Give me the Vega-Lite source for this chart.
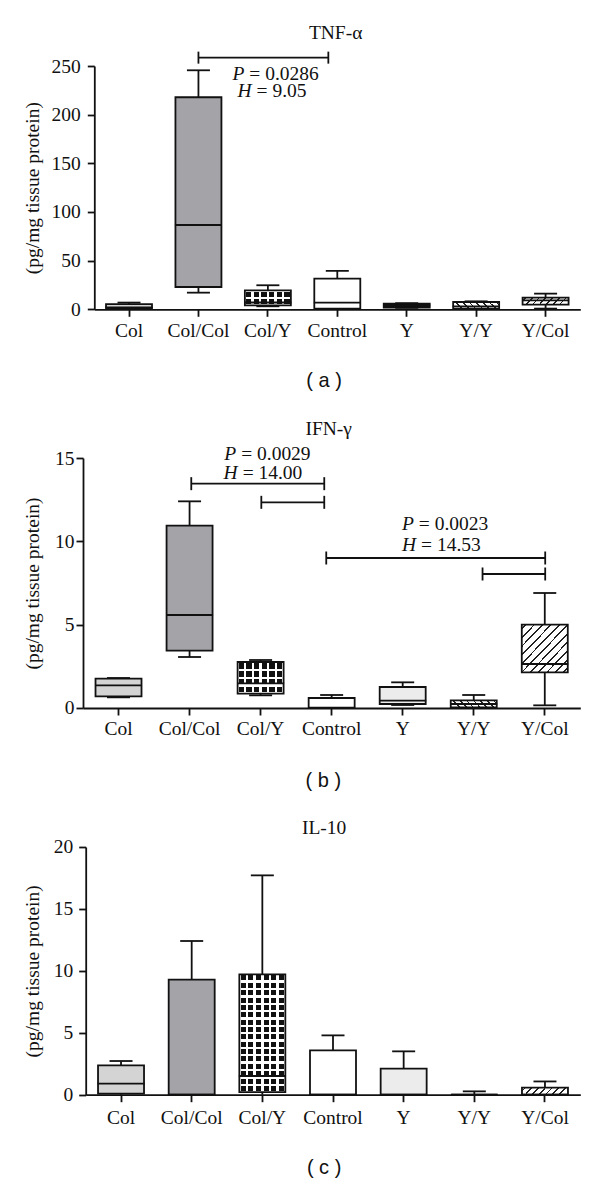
{
  "$schema": "https://vega.github.io/schema/vega-lite/v6.json",
  "padding": {"left": 22, "top": 22, "right": 5, "bottom": 0},
  "spacing": 27,
  "columns": 1,
  "align": "none",
  "resolve": {"scale": {"fill": "independent"}},
  "config": {
    "view": {"stroke": null},
    "font": "Liberation Serif",
    "axis": {"labelFont": "Liberation Serif", "labelFontSize": 19.5, "labelColor": "#111", "titleFont": "Liberation Serif", "titleFontSize": 19.5, "titleFontWeight": "normal", "titleColor": "#111", "domainColor": "#111", "domainWidth": 1.8, "tickColor": "#111", "tickWidth": 1.8, "tickSize": 7, "grid": false},
    "title": {"font": "Liberation Serif", "fontSize": 19.5, "fontWeight": "normal", "color": "#111", "frame": "group", "baseline": "alphabetic", "anchor": "middle"}
  },
  "datasets": {
    "boxes": [
      {"panel": "a", "group": "Col", "min": 0.3, "q1": 0.8, "median": 2, "q3": 5.4, "max": 6.9},
      {"panel": "a", "group": "Col/Col", "min": 17.1, "q1": 22.9, "median": 86.6, "q3": 217.9, "max": 245.6},
      {"panel": "a", "group": "Col/Y", "min": 3.1, "q1": 4.1, "median": 7, "q3": 19.5, "max": 24.7},
      {"panel": "a", "group": "Control", "min": 0.3, "q1": 0.7, "median": 6.9, "q3": 31.5, "max": 39.4},
      {"panel": "a", "group": "Y", "min": 1.5, "q1": 1.8, "median": 4, "q3": 5.9, "max": 6.3},
      {"panel": "a", "group": "Y/Y", "min": 0.5, "q1": 0.7, "median": 3, "q3": 7.5, "max": 8.2},
      {"panel": "a", "group": "Y/Col", "min": 0.7, "q1": 4.8, "median": 9.2, "q3": 12.0, "max": 16.1},
      {"panel": "b", "group": "Col", "min": 0.64, "q1": 0.7, "median": 1.36, "q3": 1.76, "max": 1.8},
      {"panel": "b", "group": "Col/Col", "min": 3.06, "q1": 3.44, "median": 5.58, "q3": 10.94, "max": 12.4},
      {"panel": "b", "group": "Col/Y", "min": 0.76, "q1": 0.86, "median": 1.48, "q3": 2.76, "max": 2.88},
      {"panel": "b", "group": "Control", "min": 0, "q1": 0, "median": 0.02, "q3": 0.6, "max": 0.78},
      {"panel": "b", "group": "Y", "min": 0.18, "q1": 0.24, "median": 0.44, "q3": 1.26, "max": 1.54},
      {"panel": "b", "group": "Y/Y", "min": 0, "q1": 0.04, "median": 0.24, "q3": 0.46, "max": 0.78},
      {"panel": "b", "group": "Y/Col", "min": 0.16, "q1": 2.14, "median": 2.64, "q3": 5.0, "max": 6.9},
      {"panel": "c", "group": "Col", "min": 0, "q1": 0.08, "median": 0.89, "q3": 2.37, "max": 2.72},
      {"panel": "c", "group": "Col/Col", "min": 0, "q1": 0, "median": 0, "q3": 9.29, "max": 12.41},
      {"panel": "c", "group": "Col/Y", "min": 0, "q1": 0.21, "median": 1.51, "q3": 9.72, "max": 17.71},
      {"panel": "c", "group": "Control", "min": 0, "q1": 0, "median": 0, "q3": 3.58, "max": 4.79},
      {"panel": "c", "group": "Y", "min": 0, "q1": 0, "median": 0, "q3": 2.1, "max": 3.5},
      {"panel": "c", "group": "Y/Y", "min": 0, "q1": 0, "median": 0, "q3": 0, "max": 0.27},
      {"panel": "c", "group": "Y/Col", "min": 0, "q1": 0, "median": 0, "q3": 0.57, "max": 1.07}
    ],
    "brackets": [
      {"panel": "a", "from": 1.5, "to": 3.371, "level": 258.6},
      {"panel": "b", "from": 1.524, "to": 3.396, "level": 13.46},
      {"panel": "b", "from": 2.51, "to": 3.396, "level": 12.34},
      {"panel": "b", "from": 3.424, "to": 6.506, "level": 9.0},
      {"panel": "b", "from": 5.624, "to": 6.506, "level": 8.04}
    ],
    "notes": [
      {"panel": "a", "x": 2.161, "y": 236.0, "letter": "P", "rest": "= 0.0286"},
      {"panel": "a", "x": 2.265, "y": 218.1, "letter": "H", "rest": "= 9.05"},
      {"panel": "b", "x": 2.156, "y": 14.9, "letter": "P", "rest": "= 0.0029"},
      {"panel": "b", "x": 2.177, "y": 13.76, "letter": "H", "rest": "= 14.00"},
      {"panel": "b", "x": 4.657, "y": 10.7, "letter": "P", "rest": "= 0.0023"},
      {"panel": "b", "x": 4.688, "y": 9.44, "letter": "H", "rest": "= 14.53"}
    ]
  },
  "concat": [
    {
      "width": 497.3, "height": 243.3,
      "title": {"text": "TNF-α", "offset": 8.5, "dx": 4},
      "resolve": {"scale": {"x": "independent"}},
      "layer": [
        {
          "data": {"name": "boxes"},
          "transform": [{"filter": "datum.panel === 'a'"}],
          "encoding": {"x": {"field": "group", "type": "nominal", "scale": {"domain": ["Col", "Col/Col", "Col/Y", "Control", "Y", "Y/Y", "Y/Col"], "paddingInner": 0, "paddingOuter": 0, "rangeMin": 11.3}, "axis": {"title": "( a )", "labelAngle": 0, "labelPadding": 5, "titleFont": "Liberation Sans", "titleFontSize": 20, "titleX": 240.6, "titleY": 71, "titleBaseline": "middle", "titleAlign": "center"}}},
          "layer": [
            {"mark": {"type": "rule", "color": "#111", "strokeWidth": 1.8}, "encoding": {"y": {"field": "min", "type": "quantitative", "scale": {"domain": [0, 250], "nice": false}, "title": "(pg/mg tissue protein)", "axis": {"values": [0, 50, 100, 150, 200, 250], "offset": -11.3, "labelPadding": 7, "titleX": -62, "titleY": 121.65, "titleBaseline": "middle", "titleAlign": "center", "titleAngle": 270}}, "y2": {"field": "max"}}},
            {"mark": {"type": "bar", "width": 46}, "encoding": {"y": {"field": "q1", "type": "quantitative", "scale": {"domain": [0, 250], "nice": false}, "title": "(pg/mg tissue protein)"}, "y2": {"field": "q3"}, "fill": {"field": "group", "type": "nominal", "scale": {"domain": ["Col", "Col/Col", "Col/Y", "Control", "Y", "Y/Y", "Y/Col"], "range": ["#d4d4d4", "#a4a4a8", "#111111", "#ffffff", "#111111", "#ffffff", "#ffffff"]}, "legend": null}}},
            {"transform": [{"filter": "datum.group === 'Col/Y'"}], "mark": {"type": "bar", "width": 46, "fill": {"gradient": "linear", "x1": 0, "y1": 0, "x2": 1, "y2": 0, "stops": [{"offset": 0, "color": "#ffffff"}, {"offset": 0.027, "color": "#ffffff"}, {"offset": 0.027, "color": "rgba(255,255,255,0)"}, {"offset": 0.14, "color": "rgba(255,255,255,0)"}, {"offset": 0.14, "color": "#ffffff"}, {"offset": 0.193, "color": "#ffffff"}, {"offset": 0.193, "color": "rgba(255,255,255,0)"}, {"offset": 0.307, "color": "rgba(255,255,255,0)"}, {"offset": 0.307, "color": "#ffffff"}, {"offset": 0.36, "color": "#ffffff"}, {"offset": 0.36, "color": "rgba(255,255,255,0)"}, {"offset": 0.473, "color": "rgba(255,255,255,0)"}, {"offset": 0.473, "color": "#ffffff"}, {"offset": 0.527, "color": "#ffffff"}, {"offset": 0.527, "color": "rgba(255,255,255,0)"}, {"offset": 0.64, "color": "rgba(255,255,255,0)"}, {"offset": 0.64, "color": "#ffffff"}, {"offset": 0.693, "color": "#ffffff"}, {"offset": 0.693, "color": "rgba(255,255,255,0)"}, {"offset": 0.807, "color": "rgba(255,255,255,0)"}, {"offset": 0.807, "color": "#ffffff"}, {"offset": 0.86, "color": "#ffffff"}, {"offset": 0.86, "color": "rgba(255,255,255,0)"}, {"offset": 0.973, "color": "rgba(255,255,255,0)"}, {"offset": 0.973, "color": "#ffffff"}, {"offset": 1, "color": "#ffffff"}]}}, "encoding": {"y": {"field": "q1", "type": "quantitative", "scale": {"domain": [0, 250], "nice": false}, "title": "(pg/mg tissue protein)"}, "y2": {"field": "q3"}}},
            {"transform": [{"filter": "datum.group === 'Col/Y'"}], "mark": {"type": "bar", "width": 46, "fill": {"gradient": "linear", "x1": 0, "y1": 0, "x2": 0, "y2": 1, "stops": [{"offset": 0, "color": "#ffffff"}, {"offset": 0.08, "color": "#ffffff"}, {"offset": 0.08, "color": "rgba(255,255,255,0)"}, {"offset": 0.42, "color": "rgba(255,255,255,0)"}, {"offset": 0.42, "color": "#ffffff"}, {"offset": 0.58, "color": "#ffffff"}, {"offset": 0.58, "color": "rgba(255,255,255,0)"}, {"offset": 0.92, "color": "rgba(255,255,255,0)"}, {"offset": 0.92, "color": "#ffffff"}, {"offset": 1, "color": "#ffffff"}]}}, "encoding": {"y": {"field": "q1", "type": "quantitative", "scale": {"domain": [0, 250], "nice": false}, "title": "(pg/mg tissue protein)"}, "y2": {"field": "q3"}}},
            {"transform": [{"filter": "datum.group === 'Y/Col'"}], "mark": {"type": "bar", "width": 46, "fill": {"gradient": "linear", "x1": 0, "y1": 0, "x2": 1, "y2": 0.15, "stops": [{"offset": 0, "color": "rgba(0,0,0,0)"}, {"offset": 0.054, "color": "rgba(0,0,0,0)"}, {"offset": 0.054, "color": "#222222"}, {"offset": 0.089, "color": "#222222"}, {"offset": 0.089, "color": "rgba(0,0,0,0)"}, {"offset": 0.197, "color": "rgba(0,0,0,0)"}, {"offset": 0.197, "color": "#222222"}, {"offset": 0.232, "color": "#222222"}, {"offset": 0.232, "color": "rgba(0,0,0,0)"}, {"offset": 0.34, "color": "rgba(0,0,0,0)"}, {"offset": 0.34, "color": "#222222"}, {"offset": 0.375, "color": "#222222"}, {"offset": 0.375, "color": "rgba(0,0,0,0)"}, {"offset": 0.483, "color": "rgba(0,0,0,0)"}, {"offset": 0.483, "color": "#222222"}, {"offset": 0.518, "color": "#222222"}, {"offset": 0.518, "color": "rgba(0,0,0,0)"}, {"offset": 0.625, "color": "rgba(0,0,0,0)"}, {"offset": 0.625, "color": "#222222"}, {"offset": 0.661, "color": "#222222"}, {"offset": 0.661, "color": "rgba(0,0,0,0)"}, {"offset": 0.768, "color": "rgba(0,0,0,0)"}, {"offset": 0.768, "color": "#222222"}, {"offset": 0.804, "color": "#222222"}, {"offset": 0.804, "color": "rgba(0,0,0,0)"}, {"offset": 0.911, "color": "rgba(0,0,0,0)"}, {"offset": 0.911, "color": "#222222"}, {"offset": 0.946, "color": "#222222"}, {"offset": 0.946, "color": "rgba(0,0,0,0)"}, {"offset": 1, "color": "rgba(0,0,0,0)"}]}}, "encoding": {"y": {"field": "q1", "type": "quantitative", "scale": {"domain": [0, 250], "nice": false}, "title": "(pg/mg tissue protein)"}, "y2": {"field": "q3"}}},
            {"transform": [{"filter": "datum.group === 'Y/Y'"}], "mark": {"type": "bar", "width": 46, "fill": {"gradient": "linear", "x1": 0, "y1": 0.15, "x2": 1, "y2": 0, "stops": [{"offset": 0, "color": "rgba(0,0,0,0)"}, {"offset": 0.054, "color": "rgba(0,0,0,0)"}, {"offset": 0.054, "color": "#222222"}, {"offset": 0.089, "color": "#222222"}, {"offset": 0.089, "color": "rgba(0,0,0,0)"}, {"offset": 0.197, "color": "rgba(0,0,0,0)"}, {"offset": 0.197, "color": "#222222"}, {"offset": 0.232, "color": "#222222"}, {"offset": 0.232, "color": "rgba(0,0,0,0)"}, {"offset": 0.34, "color": "rgba(0,0,0,0)"}, {"offset": 0.34, "color": "#222222"}, {"offset": 0.375, "color": "#222222"}, {"offset": 0.375, "color": "rgba(0,0,0,0)"}, {"offset": 0.483, "color": "rgba(0,0,0,0)"}, {"offset": 0.483, "color": "#222222"}, {"offset": 0.518, "color": "#222222"}, {"offset": 0.518, "color": "rgba(0,0,0,0)"}, {"offset": 0.625, "color": "rgba(0,0,0,0)"}, {"offset": 0.625, "color": "#222222"}, {"offset": 0.661, "color": "#222222"}, {"offset": 0.661, "color": "rgba(0,0,0,0)"}, {"offset": 0.768, "color": "rgba(0,0,0,0)"}, {"offset": 0.768, "color": "#222222"}, {"offset": 0.804, "color": "#222222"}, {"offset": 0.804, "color": "rgba(0,0,0,0)"}, {"offset": 0.911, "color": "rgba(0,0,0,0)"}, {"offset": 0.911, "color": "#222222"}, {"offset": 0.946, "color": "#222222"}, {"offset": 0.946, "color": "rgba(0,0,0,0)"}, {"offset": 1, "color": "rgba(0,0,0,0)"}]}}, "encoding": {"y": {"field": "q1", "type": "quantitative", "scale": {"domain": [0, 250], "nice": false}, "title": "(pg/mg tissue protein)"}, "y2": {"field": "q3"}}},
            {"mark": {"type": "bar", "width": 46, "fill": "#ffffff", "fillOpacity": 0, "stroke": "#111", "strokeWidth": 1.8}, "encoding": {"y": {"field": "q1", "type": "quantitative", "scale": {"domain": [0, 250], "nice": false}, "title": "(pg/mg tissue protein)"}, "y2": {"field": "q3"}}},
            {"mark": {"type": "tick", "size": 47, "thickness": 1.8, "color": "#111", "opacity": 1}, "encoding": {"y": {"field": "median", "type": "quantitative", "scale": {"domain": [0, 250], "nice": false}, "title": "(pg/mg tissue protein)"}}},
            {"mark": {"type": "tick", "size": 23, "thickness": 1.8, "color": "#111", "opacity": 1}, "encoding": {"y": {"field": "max", "type": "quantitative", "scale": {"domain": [0, 250], "nice": false}, "title": "(pg/mg tissue protein)"}}},
            {"mark": {"type": "tick", "size": 23, "thickness": 1.8, "color": "#111", "opacity": 1}, "encoding": {"y": {"field": "min", "type": "quantitative", "scale": {"domain": [0, 250], "nice": false}, "title": "(pg/mg tissue protein)"}}}
          ]
        },
        {
          "data": {"name": "brackets"},
          "transform": [{"filter": "datum.panel === 'a'"}],
          "layer": [
            {"mark": {"type": "rule", "color": "#111", "strokeWidth": 1.8}, "encoding": {"x": {"field": "from", "type": "quantitative", "scale": {"domain": [0, 7], "nice": false, "zero": false, "rangeMin": 11.3}, "axis": null}, "x2": {"field": "to"}, "y": {"field": "level", "type": "quantitative", "scale": {"domain": [0, 250], "nice": false}, "title": "(pg/mg tissue protein)"}}},
            {"transform": [{"fold": ["from", "to"], "as": ["end", "pos"]}], "mark": {"type": "tick", "orient": "vertical", "size": 12, "thickness": 1.8, "color": "#111", "opacity": 1}, "encoding": {"x": {"field": "pos", "type": "quantitative", "scale": {"domain": [0, 7], "nice": false, "zero": false, "rangeMin": 11.3}, "axis": null}, "y": {"field": "level", "type": "quantitative", "scale": {"domain": [0, 250], "nice": false}, "title": "(pg/mg tissue protein)"}}}
          ]
        },
        {
          "data": {"name": "notes"},
          "transform": [{"filter": "datum.panel === 'a'"}],
          "encoding": {"x": {"field": "x", "type": "quantitative", "scale": {"domain": [0, 7], "nice": false, "zero": false, "rangeMin": 11.3}, "axis": null}, "y": {"field": "y", "type": "quantitative", "scale": {"domain": [0, 250], "nice": false}, "title": "(pg/mg tissue protein)"}},
          "layer": [
            {"mark": {"type": "text", "align": "right", "baseline": "alphabetic", "font": "Liberation Serif", "fontSize": 19.5, "fontStyle": "italic", "color": "#111"}, "encoding": {"text": {"field": "letter"}}},
            {"mark": {"type": "text", "align": "left", "baseline": "alphabetic", "dx": 5, "font": "Liberation Serif", "fontSize": 19.5, "color": "#111"}, "encoding": {"text": {"field": "rest"}}}
          ]
        }
      ]
    },
    {
      "width": 497.3, "height": 250,
      "title": {"text": "IFN-γ", "offset": 4.5, "dx": -3},
      "resolve": {"scale": {"x": "independent"}},
      "layer": [
        {
          "data": {"name": "boxes"},
          "transform": [{"filter": "datum.panel === 'b'"}],
          "encoding": {"x": {"field": "group", "type": "nominal", "scale": {"domain": ["Col", "Col/Col", "Col/Y", "Control", "Y", "Y/Y", "Y/Col"], "paddingInner": 0, "paddingOuter": 0}, "axis": {"title": "( b )", "labelAngle": 0, "labelPadding": 5, "titleFont": "Liberation Sans", "titleFontSize": 20, "titleX": 239.8, "titleY": 72.3, "titleBaseline": "middle", "titleAlign": "center"}}},
          "layer": [
            {"mark": {"type": "rule", "color": "#111", "strokeWidth": 1.8}, "encoding": {"y": {"field": "min", "type": "quantitative", "scale": {"domain": [0, 15], "nice": false}, "title": "(pg/mg tissue protein)", "axis": {"values": [0, 5, 10, 15], "labelPadding": 2, "titleX": -50.7, "titleY": 125, "titleBaseline": "middle", "titleAlign": "center", "titleAngle": 270}}, "y2": {"field": "max"}}},
            {"mark": {"type": "bar", "width": 46}, "encoding": {"y": {"field": "q1", "type": "quantitative", "scale": {"domain": [0, 15], "nice": false}, "title": "(pg/mg tissue protein)"}, "y2": {"field": "q3"}, "fill": {"field": "group", "type": "nominal", "scale": {"domain": ["Col", "Col/Col", "Col/Y", "Control", "Y", "Y/Y", "Y/Col"], "range": ["#d4d4d4", "#a4a4a8", "#111111", "#ffffff", "#ececec", "#ffffff", "#ffffff"]}, "legend": null}}},
            {"transform": [{"filter": "datum.group === 'Col/Y'"}], "mark": {"type": "bar", "width": 46, "fill": {"gradient": "linear", "x1": 0, "y1": 0, "x2": 1, "y2": 0, "stops": [{"offset": 0, "color": "#ffffff"}, {"offset": 0.027, "color": "#ffffff"}, {"offset": 0.027, "color": "rgba(255,255,255,0)"}, {"offset": 0.14, "color": "rgba(255,255,255,0)"}, {"offset": 0.14, "color": "#ffffff"}, {"offset": 0.193, "color": "#ffffff"}, {"offset": 0.193, "color": "rgba(255,255,255,0)"}, {"offset": 0.307, "color": "rgba(255,255,255,0)"}, {"offset": 0.307, "color": "#ffffff"}, {"offset": 0.36, "color": "#ffffff"}, {"offset": 0.36, "color": "rgba(255,255,255,0)"}, {"offset": 0.473, "color": "rgba(255,255,255,0)"}, {"offset": 0.473, "color": "#ffffff"}, {"offset": 0.527, "color": "#ffffff"}, {"offset": 0.527, "color": "rgba(255,255,255,0)"}, {"offset": 0.64, "color": "rgba(255,255,255,0)"}, {"offset": 0.64, "color": "#ffffff"}, {"offset": 0.693, "color": "#ffffff"}, {"offset": 0.693, "color": "rgba(255,255,255,0)"}, {"offset": 0.807, "color": "rgba(255,255,255,0)"}, {"offset": 0.807, "color": "#ffffff"}, {"offset": 0.86, "color": "#ffffff"}, {"offset": 0.86, "color": "rgba(255,255,255,0)"}, {"offset": 0.973, "color": "rgba(255,255,255,0)"}, {"offset": 0.973, "color": "#ffffff"}, {"offset": 1, "color": "#ffffff"}]}}, "encoding": {"y": {"field": "q1", "type": "quantitative", "scale": {"domain": [0, 15], "nice": false}, "title": "(pg/mg tissue protein)"}, "y2": {"field": "q3"}}},
            {"transform": [{"filter": "datum.group === 'Col/Y'"}], "mark": {"type": "bar", "width": 46, "fill": {"gradient": "linear", "x1": 0, "y1": 0, "x2": 0, "y2": 1, "stops": [{"offset": 0, "color": "#ffffff"}, {"offset": 0.04, "color": "#ffffff"}, {"offset": 0.04, "color": "rgba(255,255,255,0)"}, {"offset": 0.21, "color": "rgba(255,255,255,0)"}, {"offset": 0.21, "color": "#ffffff"}, {"offset": 0.29, "color": "#ffffff"}, {"offset": 0.29, "color": "rgba(255,255,255,0)"}, {"offset": 0.46, "color": "rgba(255,255,255,0)"}, {"offset": 0.46, "color": "#ffffff"}, {"offset": 0.54, "color": "#ffffff"}, {"offset": 0.54, "color": "rgba(255,255,255,0)"}, {"offset": 0.71, "color": "rgba(255,255,255,0)"}, {"offset": 0.71, "color": "#ffffff"}, {"offset": 0.79, "color": "#ffffff"}, {"offset": 0.79, "color": "rgba(255,255,255,0)"}, {"offset": 0.96, "color": "rgba(255,255,255,0)"}, {"offset": 0.96, "color": "#ffffff"}, {"offset": 1, "color": "#ffffff"}]}}, "encoding": {"y": {"field": "q1", "type": "quantitative", "scale": {"domain": [0, 15], "nice": false}, "title": "(pg/mg tissue protein)"}, "y2": {"field": "q3"}}},
            {"transform": [{"filter": "datum.group === 'Y/Col'"}], "mark": {"type": "bar", "width": 46, "fill": {"gradient": "linear", "x1": 0, "y1": 0, "x2": 1, "y2": 1, "stops": [{"offset": 0, "color": "rgba(0,0,0,0)"}, {"offset": 0.035, "color": "rgba(0,0,0,0)"}, {"offset": 0.035, "color": "#222222"}, {"offset": 0.055, "color": "#222222"}, {"offset": 0.055, "color": "rgba(0,0,0,0)"}, {"offset": 0.126, "color": "rgba(0,0,0,0)"}, {"offset": 0.126, "color": "#222222"}, {"offset": 0.146, "color": "#222222"}, {"offset": 0.146, "color": "rgba(0,0,0,0)"}, {"offset": 0.217, "color": "rgba(0,0,0,0)"}, {"offset": 0.217, "color": "#222222"}, {"offset": 0.237, "color": "#222222"}, {"offset": 0.237, "color": "rgba(0,0,0,0)"}, {"offset": 0.308, "color": "rgba(0,0,0,0)"}, {"offset": 0.308, "color": "#222222"}, {"offset": 0.328, "color": "#222222"}, {"offset": 0.328, "color": "rgba(0,0,0,0)"}, {"offset": 0.399, "color": "rgba(0,0,0,0)"}, {"offset": 0.399, "color": "#222222"}, {"offset": 0.419, "color": "#222222"}, {"offset": 0.419, "color": "rgba(0,0,0,0)"}, {"offset": 0.49, "color": "rgba(0,0,0,0)"}, {"offset": 0.49, "color": "#222222"}, {"offset": 0.51, "color": "#222222"}, {"offset": 0.51, "color": "rgba(0,0,0,0)"}, {"offset": 0.58, "color": "rgba(0,0,0,0)"}, {"offset": 0.58, "color": "#222222"}, {"offset": 0.6, "color": "#222222"}, {"offset": 0.6, "color": "rgba(0,0,0,0)"}, {"offset": 0.671, "color": "rgba(0,0,0,0)"}, {"offset": 0.671, "color": "#222222"}, {"offset": 0.691, "color": "#222222"}, {"offset": 0.691, "color": "rgba(0,0,0,0)"}, {"offset": 0.762, "color": "rgba(0,0,0,0)"}, {"offset": 0.762, "color": "#222222"}, {"offset": 0.782, "color": "#222222"}, {"offset": 0.782, "color": "rgba(0,0,0,0)"}, {"offset": 0.853, "color": "rgba(0,0,0,0)"}, {"offset": 0.853, "color": "#222222"}, {"offset": 0.873, "color": "#222222"}, {"offset": 0.873, "color": "rgba(0,0,0,0)"}, {"offset": 0.944, "color": "rgba(0,0,0,0)"}, {"offset": 0.944, "color": "#222222"}, {"offset": 0.964, "color": "#222222"}, {"offset": 0.964, "color": "rgba(0,0,0,0)"}, {"offset": 1, "color": "rgba(0,0,0,0)"}]}}, "encoding": {"y": {"field": "q1", "type": "quantitative", "scale": {"domain": [0, 15], "nice": false}, "title": "(pg/mg tissue protein)"}, "y2": {"field": "q3"}}},
            {"transform": [{"filter": "datum.group === 'Y/Y'"}], "mark": {"type": "bar", "width": 46, "fill": {"gradient": "linear", "x1": 0, "y1": 0.15, "x2": 1, "y2": 0, "stops": [{"offset": 0, "color": "rgba(0,0,0,0)"}, {"offset": 0.054, "color": "rgba(0,0,0,0)"}, {"offset": 0.054, "color": "#222222"}, {"offset": 0.089, "color": "#222222"}, {"offset": 0.089, "color": "rgba(0,0,0,0)"}, {"offset": 0.197, "color": "rgba(0,0,0,0)"}, {"offset": 0.197, "color": "#222222"}, {"offset": 0.232, "color": "#222222"}, {"offset": 0.232, "color": "rgba(0,0,0,0)"}, {"offset": 0.34, "color": "rgba(0,0,0,0)"}, {"offset": 0.34, "color": "#222222"}, {"offset": 0.375, "color": "#222222"}, {"offset": 0.375, "color": "rgba(0,0,0,0)"}, {"offset": 0.483, "color": "rgba(0,0,0,0)"}, {"offset": 0.483, "color": "#222222"}, {"offset": 0.518, "color": "#222222"}, {"offset": 0.518, "color": "rgba(0,0,0,0)"}, {"offset": 0.625, "color": "rgba(0,0,0,0)"}, {"offset": 0.625, "color": "#222222"}, {"offset": 0.661, "color": "#222222"}, {"offset": 0.661, "color": "rgba(0,0,0,0)"}, {"offset": 0.768, "color": "rgba(0,0,0,0)"}, {"offset": 0.768, "color": "#222222"}, {"offset": 0.804, "color": "#222222"}, {"offset": 0.804, "color": "rgba(0,0,0,0)"}, {"offset": 0.911, "color": "rgba(0,0,0,0)"}, {"offset": 0.911, "color": "#222222"}, {"offset": 0.946, "color": "#222222"}, {"offset": 0.946, "color": "rgba(0,0,0,0)"}, {"offset": 1, "color": "rgba(0,0,0,0)"}]}}, "encoding": {"y": {"field": "q1", "type": "quantitative", "scale": {"domain": [0, 15], "nice": false}, "title": "(pg/mg tissue protein)"}, "y2": {"field": "q3"}}},
            {"mark": {"type": "bar", "width": 46, "fill": "#ffffff", "fillOpacity": 0, "stroke": "#111", "strokeWidth": 1.8}, "encoding": {"y": {"field": "q1", "type": "quantitative", "scale": {"domain": [0, 15], "nice": false}, "title": "(pg/mg tissue protein)"}, "y2": {"field": "q3"}}},
            {"mark": {"type": "tick", "size": 47, "thickness": 1.8, "color": "#111", "opacity": 1}, "encoding": {"y": {"field": "median", "type": "quantitative", "scale": {"domain": [0, 15], "nice": false}, "title": "(pg/mg tissue protein)"}}},
            {"mark": {"type": "tick", "size": 23, "thickness": 1.8, "color": "#111", "opacity": 1}, "encoding": {"y": {"field": "max", "type": "quantitative", "scale": {"domain": [0, 15], "nice": false}, "title": "(pg/mg tissue protein)"}}},
            {"mark": {"type": "tick", "size": 23, "thickness": 1.8, "color": "#111", "opacity": 1}, "encoding": {"y": {"field": "min", "type": "quantitative", "scale": {"domain": [0, 15], "nice": false}, "title": "(pg/mg tissue protein)"}}}
          ]
        },
        {
          "data": {"name": "brackets"},
          "transform": [{"filter": "datum.panel === 'b'"}],
          "layer": [
            {"mark": {"type": "rule", "color": "#111", "strokeWidth": 1.8}, "encoding": {"x": {"field": "from", "type": "quantitative", "scale": {"domain": [0, 7], "nice": false, "zero": false}, "axis": null}, "x2": {"field": "to"}, "y": {"field": "level", "type": "quantitative", "scale": {"domain": [0, 15], "nice": false}, "title": "(pg/mg tissue protein)"}}},
            {"transform": [{"fold": ["from", "to"], "as": ["end", "pos"]}], "mark": {"type": "tick", "orient": "vertical", "size": 13, "thickness": 1.8, "color": "#111", "opacity": 1}, "encoding": {"x": {"field": "pos", "type": "quantitative", "scale": {"domain": [0, 7], "nice": false, "zero": false}, "axis": null}, "y": {"field": "level", "type": "quantitative", "scale": {"domain": [0, 15], "nice": false}, "title": "(pg/mg tissue protein)"}}}
          ]
        },
        {
          "data": {"name": "notes"},
          "transform": [{"filter": "datum.panel === 'b'"}],
          "encoding": {"x": {"field": "x", "type": "quantitative", "scale": {"domain": [0, 7], "nice": false, "zero": false}, "axis": null}, "y": {"field": "y", "type": "quantitative", "scale": {"domain": [0, 15], "nice": false}, "title": "(pg/mg tissue protein)"}},
          "layer": [
            {"mark": {"type": "text", "align": "right", "baseline": "alphabetic", "font": "Liberation Serif", "fontSize": 19.5, "fontStyle": "italic", "color": "#111"}, "encoding": {"text": {"field": "letter"}}},
            {"mark": {"type": "text", "align": "left", "baseline": "alphabetic", "dx": 5, "font": "Liberation Serif", "fontSize": 19.5, "color": "#111"}, "encoding": {"text": {"field": "rest"}}}
          ]
        }
      ]
    },
    {
      "width": 497.3, "height": 247.7,
      "title": {"text": "IL-10", "offset": -2, "dx": -7.5},
      "data": {"name": "boxes"},
      "transform": [{"filter": "datum.panel === 'c'"}],
      "encoding": {"x": {"field": "group", "type": "nominal", "scale": {"domain": ["Col", "Col/Col", "Col/Y", "Control", "Y", "Y/Y", "Y/Col"], "paddingInner": 0, "paddingOuter": 0, "rangeMin": 2.7}, "axis": {"title": "( c )", "labelAngle": 0, "labelPadding": 7, "titleFont": "Liberation Sans", "titleFontSize": 20, "titleX": 240.6, "titleY": 73, "titleBaseline": "middle", "titleAlign": "center"}}},
      "layer": [
        {"mark": {"type": "rule", "color": "#111", "strokeWidth": 1.8}, "encoding": {"y": {"field": "min", "type": "quantitative", "scale": {"domain": [0, 20], "nice": false}, "title": "(pg/mg tissue protein)", "axis": {"values": [0, 5, 10, 15, 20], "offset": -2.7, "labelPadding": 6, "titleX": -53.4, "titleY": 123.85, "titleBaseline": "middle", "titleAlign": "center", "titleAngle": 270}}, "y2": {"field": "max"}}},
        {"mark": {"type": "bar", "width": 46}, "encoding": {"y": {"field": "q1", "type": "quantitative", "scale": {"domain": [0, 20], "nice": false}, "title": "(pg/mg tissue protein)"}, "y2": {"field": "q3"}, "fill": {"field": "group", "type": "nominal", "scale": {"domain": ["Col", "Col/Col", "Col/Y", "Control", "Y", "Y/Y", "Y/Col"], "range": ["#d4d4d4", "#a4a4a8", "#111111", "#ffffff", "#ececec", "#ffffff", "#ffffff"]}, "legend": null}}},
        {"transform": [{"filter": "datum.group === 'Col/Y'"}], "mark": {"type": "bar", "width": 46, "fill": {"gradient": "linear", "x1": 0, "y1": 0, "x2": 1, "y2": 0, "stops": [{"offset": 0, "color": "#ffffff"}, {"offset": 0.027, "color": "#ffffff"}, {"offset": 0.027, "color": "rgba(255,255,255,0)"}, {"offset": 0.14, "color": "rgba(255,255,255,0)"}, {"offset": 0.14, "color": "#ffffff"}, {"offset": 0.193, "color": "#ffffff"}, {"offset": 0.193, "color": "rgba(255,255,255,0)"}, {"offset": 0.307, "color": "rgba(255,255,255,0)"}, {"offset": 0.307, "color": "#ffffff"}, {"offset": 0.36, "color": "#ffffff"}, {"offset": 0.36, "color": "rgba(255,255,255,0)"}, {"offset": 0.473, "color": "rgba(255,255,255,0)"}, {"offset": 0.473, "color": "#ffffff"}, {"offset": 0.527, "color": "#ffffff"}, {"offset": 0.527, "color": "rgba(255,255,255,0)"}, {"offset": 0.64, "color": "rgba(255,255,255,0)"}, {"offset": 0.64, "color": "#ffffff"}, {"offset": 0.693, "color": "#ffffff"}, {"offset": 0.693, "color": "rgba(255,255,255,0)"}, {"offset": 0.807, "color": "rgba(255,255,255,0)"}, {"offset": 0.807, "color": "#ffffff"}, {"offset": 0.86, "color": "#ffffff"}, {"offset": 0.86, "color": "rgba(255,255,255,0)"}, {"offset": 0.973, "color": "rgba(255,255,255,0)"}, {"offset": 0.973, "color": "#ffffff"}, {"offset": 1, "color": "#ffffff"}]}}, "encoding": {"y": {"field": "q1", "type": "quantitative", "scale": {"domain": [0, 20], "nice": false}, "title": "(pg/mg tissue protein)"}, "y2": {"field": "q3"}}},
        {"transform": [{"filter": "datum.group === 'Col/Y'"}], "mark": {"type": "bar", "width": 46, "fill": {"gradient": "linear", "x1": 0, "y1": 0, "x2": 0, "y2": 1, "stops": [{"offset": 0, "color": "#ffffff"}, {"offset": 0.01, "color": "#ffffff"}, {"offset": 0.01, "color": "rgba(255,255,255,0)"}, {"offset": 0.0525, "color": "rgba(255,255,255,0)"}, {"offset": 0.0525, "color": "#ffffff"}, {"offset": 0.0725, "color": "#ffffff"}, {"offset": 0.0725, "color": "rgba(255,255,255,0)"}, {"offset": 0.115, "color": "rgba(255,255,255,0)"}, {"offset": 0.115, "color": "#ffffff"}, {"offset": 0.135, "color": "#ffffff"}, {"offset": 0.135, "color": "rgba(255,255,255,0)"}, {"offset": 0.1775, "color": "rgba(255,255,255,0)"}, {"offset": 0.1775, "color": "#ffffff"}, {"offset": 0.1975, "color": "#ffffff"}, {"offset": 0.1975, "color": "rgba(255,255,255,0)"}, {"offset": 0.24, "color": "rgba(255,255,255,0)"}, {"offset": 0.24, "color": "#ffffff"}, {"offset": 0.26, "color": "#ffffff"}, {"offset": 0.26, "color": "rgba(255,255,255,0)"}, {"offset": 0.3025, "color": "rgba(255,255,255,0)"}, {"offset": 0.3025, "color": "#ffffff"}, {"offset": 0.3225, "color": "#ffffff"}, {"offset": 0.3225, "color": "rgba(255,255,255,0)"}, {"offset": 0.365, "color": "rgba(255,255,255,0)"}, {"offset": 0.365, "color": "#ffffff"}, {"offset": 0.385, "color": "#ffffff"}, {"offset": 0.385, "color": "rgba(255,255,255,0)"}, {"offset": 0.4275, "color": "rgba(255,255,255,0)"}, {"offset": 0.4275, "color": "#ffffff"}, {"offset": 0.4475, "color": "#ffffff"}, {"offset": 0.4475, "color": "rgba(255,255,255,0)"}, {"offset": 0.49, "color": "rgba(255,255,255,0)"}, {"offset": 0.49, "color": "#ffffff"}, {"offset": 0.51, "color": "#ffffff"}, {"offset": 0.51, "color": "rgba(255,255,255,0)"}, {"offset": 0.5525, "color": "rgba(255,255,255,0)"}, {"offset": 0.5525, "color": "#ffffff"}, {"offset": 0.5725, "color": "#ffffff"}, {"offset": 0.5725, "color": "rgba(255,255,255,0)"}, {"offset": 0.615, "color": "rgba(255,255,255,0)"}, {"offset": 0.615, "color": "#ffffff"}, {"offset": 0.635, "color": "#ffffff"}, {"offset": 0.635, "color": "rgba(255,255,255,0)"}, {"offset": 0.6775, "color": "rgba(255,255,255,0)"}, {"offset": 0.6775, "color": "#ffffff"}, {"offset": 0.6975, "color": "#ffffff"}, {"offset": 0.6975, "color": "rgba(255,255,255,0)"}, {"offset": 0.74, "color": "rgba(255,255,255,0)"}, {"offset": 0.74, "color": "#ffffff"}, {"offset": 0.76, "color": "#ffffff"}, {"offset": 0.76, "color": "rgba(255,255,255,0)"}, {"offset": 0.8025, "color": "rgba(255,255,255,0)"}, {"offset": 0.8025, "color": "#ffffff"}, {"offset": 0.8225, "color": "#ffffff"}, {"offset": 0.8225, "color": "rgba(255,255,255,0)"}, {"offset": 0.865, "color": "rgba(255,255,255,0)"}, {"offset": 0.865, "color": "#ffffff"}, {"offset": 0.885, "color": "#ffffff"}, {"offset": 0.885, "color": "rgba(255,255,255,0)"}, {"offset": 0.9275, "color": "rgba(255,255,255,0)"}, {"offset": 0.9275, "color": "#ffffff"}, {"offset": 0.9475, "color": "#ffffff"}, {"offset": 0.9475, "color": "rgba(255,255,255,0)"}, {"offset": 0.99, "color": "rgba(255,255,255,0)"}, {"offset": 0.99, "color": "#ffffff"}, {"offset": 1, "color": "#ffffff"}]}}, "encoding": {"y": {"field": "q1", "type": "quantitative", "scale": {"domain": [0, 20], "nice": false}, "title": "(pg/mg tissue protein)"}, "y2": {"field": "q3"}}},
        {"transform": [{"filter": "datum.group === 'Y/Col'"}], "mark": {"type": "bar", "width": 46, "fill": {"gradient": "linear", "x1": 0, "y1": 0, "x2": 1, "y2": 0.15, "stops": [{"offset": 0, "color": "rgba(0,0,0,0)"}, {"offset": 0.054, "color": "rgba(0,0,0,0)"}, {"offset": 0.054, "color": "#222222"}, {"offset": 0.089, "color": "#222222"}, {"offset": 0.089, "color": "rgba(0,0,0,0)"}, {"offset": 0.197, "color": "rgba(0,0,0,0)"}, {"offset": 0.197, "color": "#222222"}, {"offset": 0.232, "color": "#222222"}, {"offset": 0.232, "color": "rgba(0,0,0,0)"}, {"offset": 0.34, "color": "rgba(0,0,0,0)"}, {"offset": 0.34, "color": "#222222"}, {"offset": 0.375, "color": "#222222"}, {"offset": 0.375, "color": "rgba(0,0,0,0)"}, {"offset": 0.483, "color": "rgba(0,0,0,0)"}, {"offset": 0.483, "color": "#222222"}, {"offset": 0.518, "color": "#222222"}, {"offset": 0.518, "color": "rgba(0,0,0,0)"}, {"offset": 0.625, "color": "rgba(0,0,0,0)"}, {"offset": 0.625, "color": "#222222"}, {"offset": 0.661, "color": "#222222"}, {"offset": 0.661, "color": "rgba(0,0,0,0)"}, {"offset": 0.768, "color": "rgba(0,0,0,0)"}, {"offset": 0.768, "color": "#222222"}, {"offset": 0.804, "color": "#222222"}, {"offset": 0.804, "color": "rgba(0,0,0,0)"}, {"offset": 0.911, "color": "rgba(0,0,0,0)"}, {"offset": 0.911, "color": "#222222"}, {"offset": 0.946, "color": "#222222"}, {"offset": 0.946, "color": "rgba(0,0,0,0)"}, {"offset": 1, "color": "rgba(0,0,0,0)"}]}}, "encoding": {"y": {"field": "q1", "type": "quantitative", "scale": {"domain": [0, 20], "nice": false}, "title": "(pg/mg tissue protein)"}, "y2": {"field": "q3"}}},
        {"mark": {"type": "bar", "width": 46, "fill": "#ffffff", "fillOpacity": 0, "stroke": "#111", "strokeWidth": 1.8}, "encoding": {"y": {"field": "q1", "type": "quantitative", "scale": {"domain": [0, 20], "nice": false}, "title": "(pg/mg tissue protein)"}, "y2": {"field": "q3"}}},
        {"mark": {"type": "tick", "size": 47, "thickness": 1.8, "color": "#111", "opacity": 1}, "encoding": {"y": {"field": "median", "type": "quantitative", "scale": {"domain": [0, 20], "nice": false}, "title": "(pg/mg tissue protein)"}}},
        {"mark": {"type": "tick", "size": 23, "thickness": 1.8, "color": "#111", "opacity": 1}, "encoding": {"y": {"field": "max", "type": "quantitative", "scale": {"domain": [0, 20], "nice": false}, "title": "(pg/mg tissue protein)"}}}
      ]
    }
  ]
}
